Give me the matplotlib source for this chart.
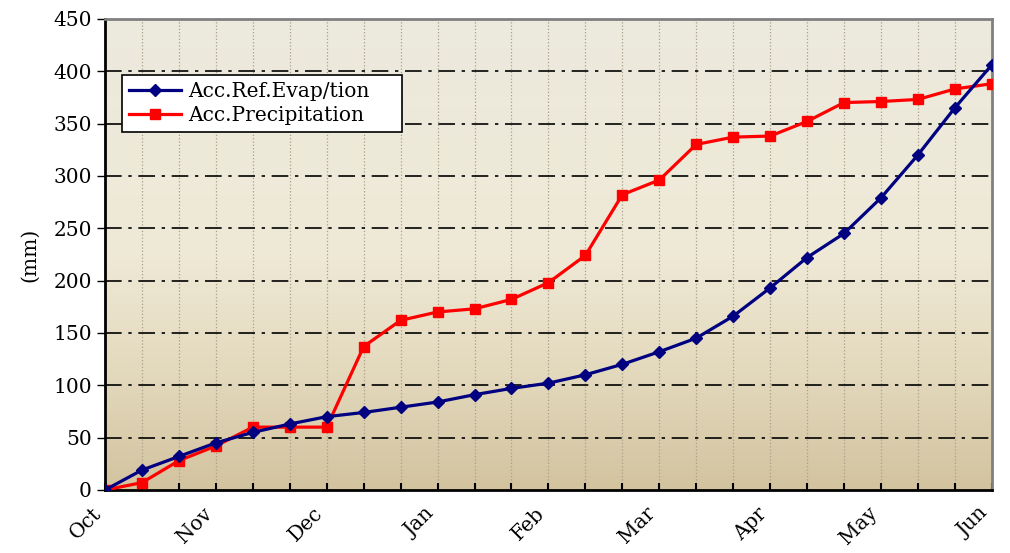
import matplotlib
matplotlib.use("Agg")
import matplotlib.pyplot as plt
import numpy as np
from matplotlib.colors import LinearSegmentedColormap

plt.rcParams["font.family"] = ["DejaVu Serif"]

# dados (mm acumulados, 3 pontos por mês)
meses = ["Oct", "Nov", "Dec", "Jan", "Feb", "Mar", "Apr", "May", "Jun"]
evap = [0, 19, 32, 45, 55, 63, 70, 74, 79, 84, 91, 97, 102, 110, 120, 132,
        145, 166, 193, 222, 245, 279, 320, 365, 406]
precip = [0, 7, 28, 42, 60, 60, 60, 137, 162, 170, 173, 182, 198, 224, 282,
          296, 330, 337, 338, 352, 370, 371, 373, 383, 388]

x = np.arange(len(evap))

fig = plt.figure(figsize=(10.1, 5.53), dpi=100)
ax = fig.add_axes([0.104, 0.114, 0.878, 0.852])

# fundo em degradê
grad = np.linspace(0, 1, 256).reshape(-1, 1)
cmap = LinearSegmentedColormap.from_list(
    "bg", [(0.0, "#d3c39f"), (0.25, "#e3d9bd"), (0.5, "#efe9d6"), (1.0, "#eceade")])
ax.imshow(grad, cmap=cmap, aspect="auto", origin="lower",
          extent=[0, 24, 0, 450], zorder=0)

ax.plot(x, evap, color="#000080", lw=2.3, marker="D", ms=6, label="Acc.Ref.Evap/tion", zorder=4)
ax.plot(x, precip, color="#ff0000", lw=2.3, marker="s", ms=7, label="Acc.Precipitation", zorder=3)

ax.set_xlim(0, 24)
ax.set_ylim(0, 450)
ax.set_yticks(np.arange(0, 451, 50))
ax.set_xticks(x, minor=True)
ax.set_xticks(np.arange(0, 25, 3))
ax.set_xticklabels(meses, rotation=45, ha="right", va="top", fontsize=14.5)
ax.tick_params(axis="y", labelsize=14.5, direction="out", length=6, width=1)
ax.tick_params(axis="x", which="both", direction="in", length=5, width=1.5, pad=10)

for v in np.arange(50, 451, 50):
    ax.axhline(v, color="black", lw=1.2, ls=(0, (10, 4, 2, 4)), zorder=2)
for xi in x[1:-1]:
    ax.axvline(xi, color="#a8a088", lw=0.9, ls=":", zorder=1)

ax.set_ylabel("(mm)", fontsize=14.5, labelpad=10)

for s in ["left", "bottom"]:
    ax.spines[s].set_color("black")
    ax.spines[s].set_linewidth(2)
for s in ["top", "right"]:
    ax.spines[s].set_color("#808080")
    ax.spines[s].set_linewidth(2)

leg = ax.legend(loc="upper left", bbox_to_anchor=(0.019, 0.881, 0.316, 0),
                mode="expand", borderaxespad=0, fontsize=14.5, frameon=True,
                fancybox=False, framealpha=1, edgecolor="black",
                handlelength=2.6, handletextpad=0.35, borderpad=0.35,
                labelspacing=0.25)
leg.get_frame().set_linewidth(1.2)

fig.savefig("out.png", dpi=100)
